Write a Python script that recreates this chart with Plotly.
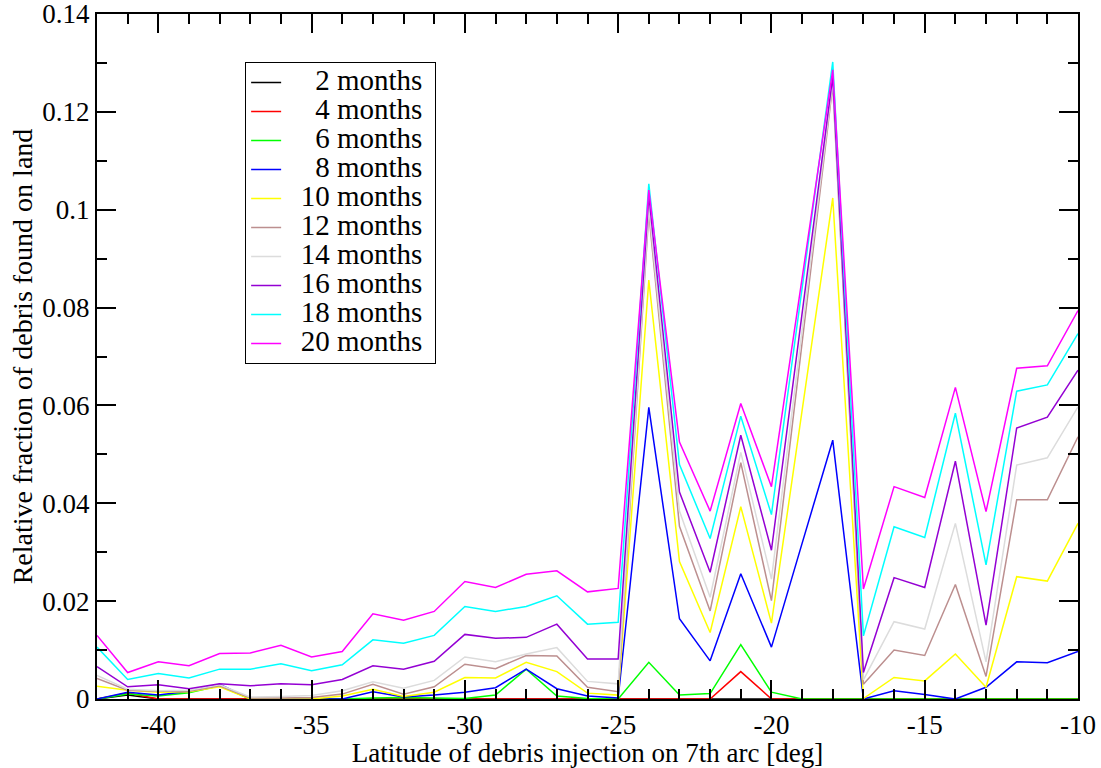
import plotly.graph_objects as go

latitude = list(range(-42, -9))

series_names = ["2 months", "4 months", "6 months", "8 months", "10 months",
                "12 months", "14 months", "16 months", "18 months", "20 months"]
series_colors = ["#000000", "#ff0000", "#00ff00", "#0000ff", "#ffff00",
                 "#bc8f8f", "#dcdcdc", "#9400d3", "#00ffff", "#ff00ff"]

m2 = [0.0, 0.0008, 0.0, 0.0, 0.0, 0.0, 0.0, 0.0, 0.0, 0.0, 0.0, 0.0, 0.0, 0.0, 0.0, 0.0, 0.0,
      0.0, 0.0, 0.0, 0.0, 0.0, 0.0, 0.0, 0.0, 0.0, 0.0, 0.0, 0.0, 0.0, 0.0, 0.0, 0.0]
m4 = [0.0, 0.0012, 0.0, 0.0, 0.0, 0.0, 0.0, 0.0, 0.0, 0.0, 0.0, 0.0, 0.0, 0.0, 0.0, 0.0, 0.0,
      0.0, 0.0, 0.0, 0.0, 0.0056, 0.0, 0.0, 0.0, 0.0, 0.0, 0.0, 0.0, 0.0, 0.0, 0.0, 0.0]
m6 = [0.0, 0.0010, 0.0006, 0.0013, 0.0027, 0.0, 0.0, 0.0, 0.0, 0.0002, 0.0003, 0.0002, 0.0001,
      0.0008, 0.0061, 0.0006, 0.0001, 0.0, 0.0075, 0.0008, 0.0011, 0.0111, 0.0014, 0.0, 0.0,
      0.0, 0.0, 0.0, 0.0, 0.0, 0.0, 0.0, 0.0]
m8 = [0.0, 0.0014, 0.0008, 0.0016, 0.0030, 0.0, 0.0, 0.0, 0.0, 0.0015, 0.0004, 0.0008, 0.0014,
      0.0023, 0.0061, 0.0021, 0.0006, 0.0002, 0.0596, 0.0164, 0.0078, 0.0256, 0.0106, 0.0318,
      0.0529, 0.0, 0.0017, 0.0009, 0.0, 0.0024, 0.0076, 0.0074, 0.0097]
m10 = [0.0026, 0.0018, 0.0014, 0.0015, 0.0025, 0.0, 0.0, 0.0, 0.0006, 0.0020, 0.0005, 0.0014,
       0.0044, 0.0043, 0.0075, 0.0056, 0.0012, 0.0008, 0.0856, 0.0281, 0.0136, 0.0393, 0.0155,
       0.0590, 0.1024, 0.0001, 0.0044, 0.0037, 0.0092, 0.0024, 0.0250, 0.0241, 0.0359]
m12 = [0.0042, 0.0018, 0.0016, 0.0016, 0.0027, 0.0002, 0.0002, 0.0003, 0.0010, 0.0030, 0.0010,
       0.0025, 0.0071, 0.0062, 0.0089, 0.0088, 0.0024, 0.0015, 0.0993, 0.0353, 0.0180, 0.0483,
       0.0201, 0.0725, 0.1255, 0.0030, 0.0100, 0.0089, 0.0234, 0.0046, 0.0407, 0.0407, 0.0536]
m14 = [0.0048, 0.0020, 0.0017, 0.0018, 0.0029, 0.0004, 0.0005, 0.0007, 0.0017, 0.0035, 0.0022,
       0.0038, 0.0086, 0.0076, 0.0092, 0.0105, 0.0036, 0.0031, 0.1005, 0.0384, 0.0208, 0.0504,
       0.0245, 0.0755, 0.1262, 0.0039, 0.0158, 0.0143, 0.0359, 0.0076, 0.0478, 0.0493, 0.0597]
m16 = [0.0066, 0.0025, 0.0029, 0.0021, 0.0031, 0.0027, 0.0031, 0.0029, 0.0040, 0.0068, 0.0061,
       0.0077, 0.0132, 0.0124, 0.0126, 0.0153, 0.0082, 0.0082, 0.1030, 0.0423, 0.0259, 0.0539,
       0.0304, 0.0790, 0.1272, 0.0054, 0.0248, 0.0228, 0.0486, 0.0151, 0.0554, 0.0576, 0.0672]
m18 = [0.0106, 0.0040, 0.0052, 0.0043, 0.0061, 0.0061, 0.0072, 0.0058, 0.0070, 0.0121, 0.0114,
       0.0130, 0.0189, 0.0179, 0.0189, 0.0211, 0.0153, 0.0157, 0.1053, 0.0479, 0.0328, 0.0578,
       0.0377, 0.0840, 0.1302, 0.0129, 0.0352, 0.0330, 0.0584, 0.0274, 0.0629, 0.0642, 0.0747]
m20 = [0.0130, 0.0054, 0.0076, 0.0068, 0.0093, 0.0094, 0.0110, 0.0086, 0.0097, 0.0174, 0.0161,
       0.0179, 0.0240, 0.0228, 0.0255, 0.0262, 0.0219, 0.0226, 0.1040, 0.0525, 0.0384, 0.0604,
       0.0434, 0.0860, 0.1286, 0.0225, 0.0434, 0.0412, 0.0637, 0.0383, 0.0676, 0.0681, 0.0794]

x_tick_vals = [-40, -35, -30, -25, -20, -15, -10]
x_tick_text = ["-40", "-35", "-30", "-25", "-20", "-15", "-10"]
y_tick_vals = [0, 0.02, 0.04, 0.06, 0.08, 0.1, 0.12, 0.14]
y_tick_text = ["0", "0.02", "0.04", "0.06", "0.08", "0.1", "0.12", "0.14"]

all_series = [m2, m4, m6, m8, m10, m12, m14, m16, m18, m20]

FONT = "Liberation Serif"
NB = "\u00a0"

fig = go.Figure()
for name, color, vals in zip(series_names, series_colors, all_series):
    pad = NB * 2 + (NB * 2 if len(name.split()[0]) == 1 else "")
    label = '<span style="font-size:29px">' + pad + name + NB + "</span>"
    fig.add_trace(go.Scatter(x=latitude, y=vals, mode="lines", name=label,
                             line=dict(color=color, width=1.5)))

axis_common = dict(
    showline=True, linecolor="black", linewidth=2, mirror="ticks",
    ticks="inside", ticklen=19, tickwidth=2, tickcolor="black",
    showgrid=False, zeroline=False, automargin=False,
    ticklabeloverflow="allow",
    tickfont=dict(family=FONT, size=27, color="black"),
)

fig.update_xaxes(
    range=[-42, -10], tickmode="array", tickvals=x_tick_vals, ticktext=x_tick_text,
    minor=dict(ticks="inside", ticklen=10, tickwidth=2, tickcolor="black", dtick=1, tick0=-42),
    ticklabelstandoff=1,
    title=dict(text="Latitude of debris injection on 7th arc [deg]",
               font=dict(family=FONT, size=27, color="black"), standoff=1),
    **axis_common,
)
fig.update_yaxes(
    range=[0, 0.140001], tickmode="array", tickvals=y_tick_vals, ticktext=y_tick_text,
    minor=dict(ticks="inside", ticklen=10, tickwidth=2, tickcolor="black", dtick=0.01, tick0=0),
    ticklabelstandoff=0,
    title=dict(text="Relative fraction of debris found on land",
               font=dict(family=FONT, size=28, color="black"), standoff=2),
    **axis_common,
)

fig.update_layout(
    width=1101, height=768,
    margin=dict(l=97, r=23, t=14, b=69),
    paper_bgcolor="white", plot_bgcolor="white",
    font=dict(family=FONT, color="black"),
    showlegend=True,
    legend=dict(x=0.151, y=0.93, xanchor="left", yanchor="top",
                bgcolor="white", bordercolor="black", borderwidth=1,
                font=dict(family=FONT, size=20, color="black"),
                tracegroupgap=0),
)

fig.write_html("out.html", config={"displayModeBar": False},
               post_script="document.body.style.margin='0';document.body.style.overflow='hidden';")
